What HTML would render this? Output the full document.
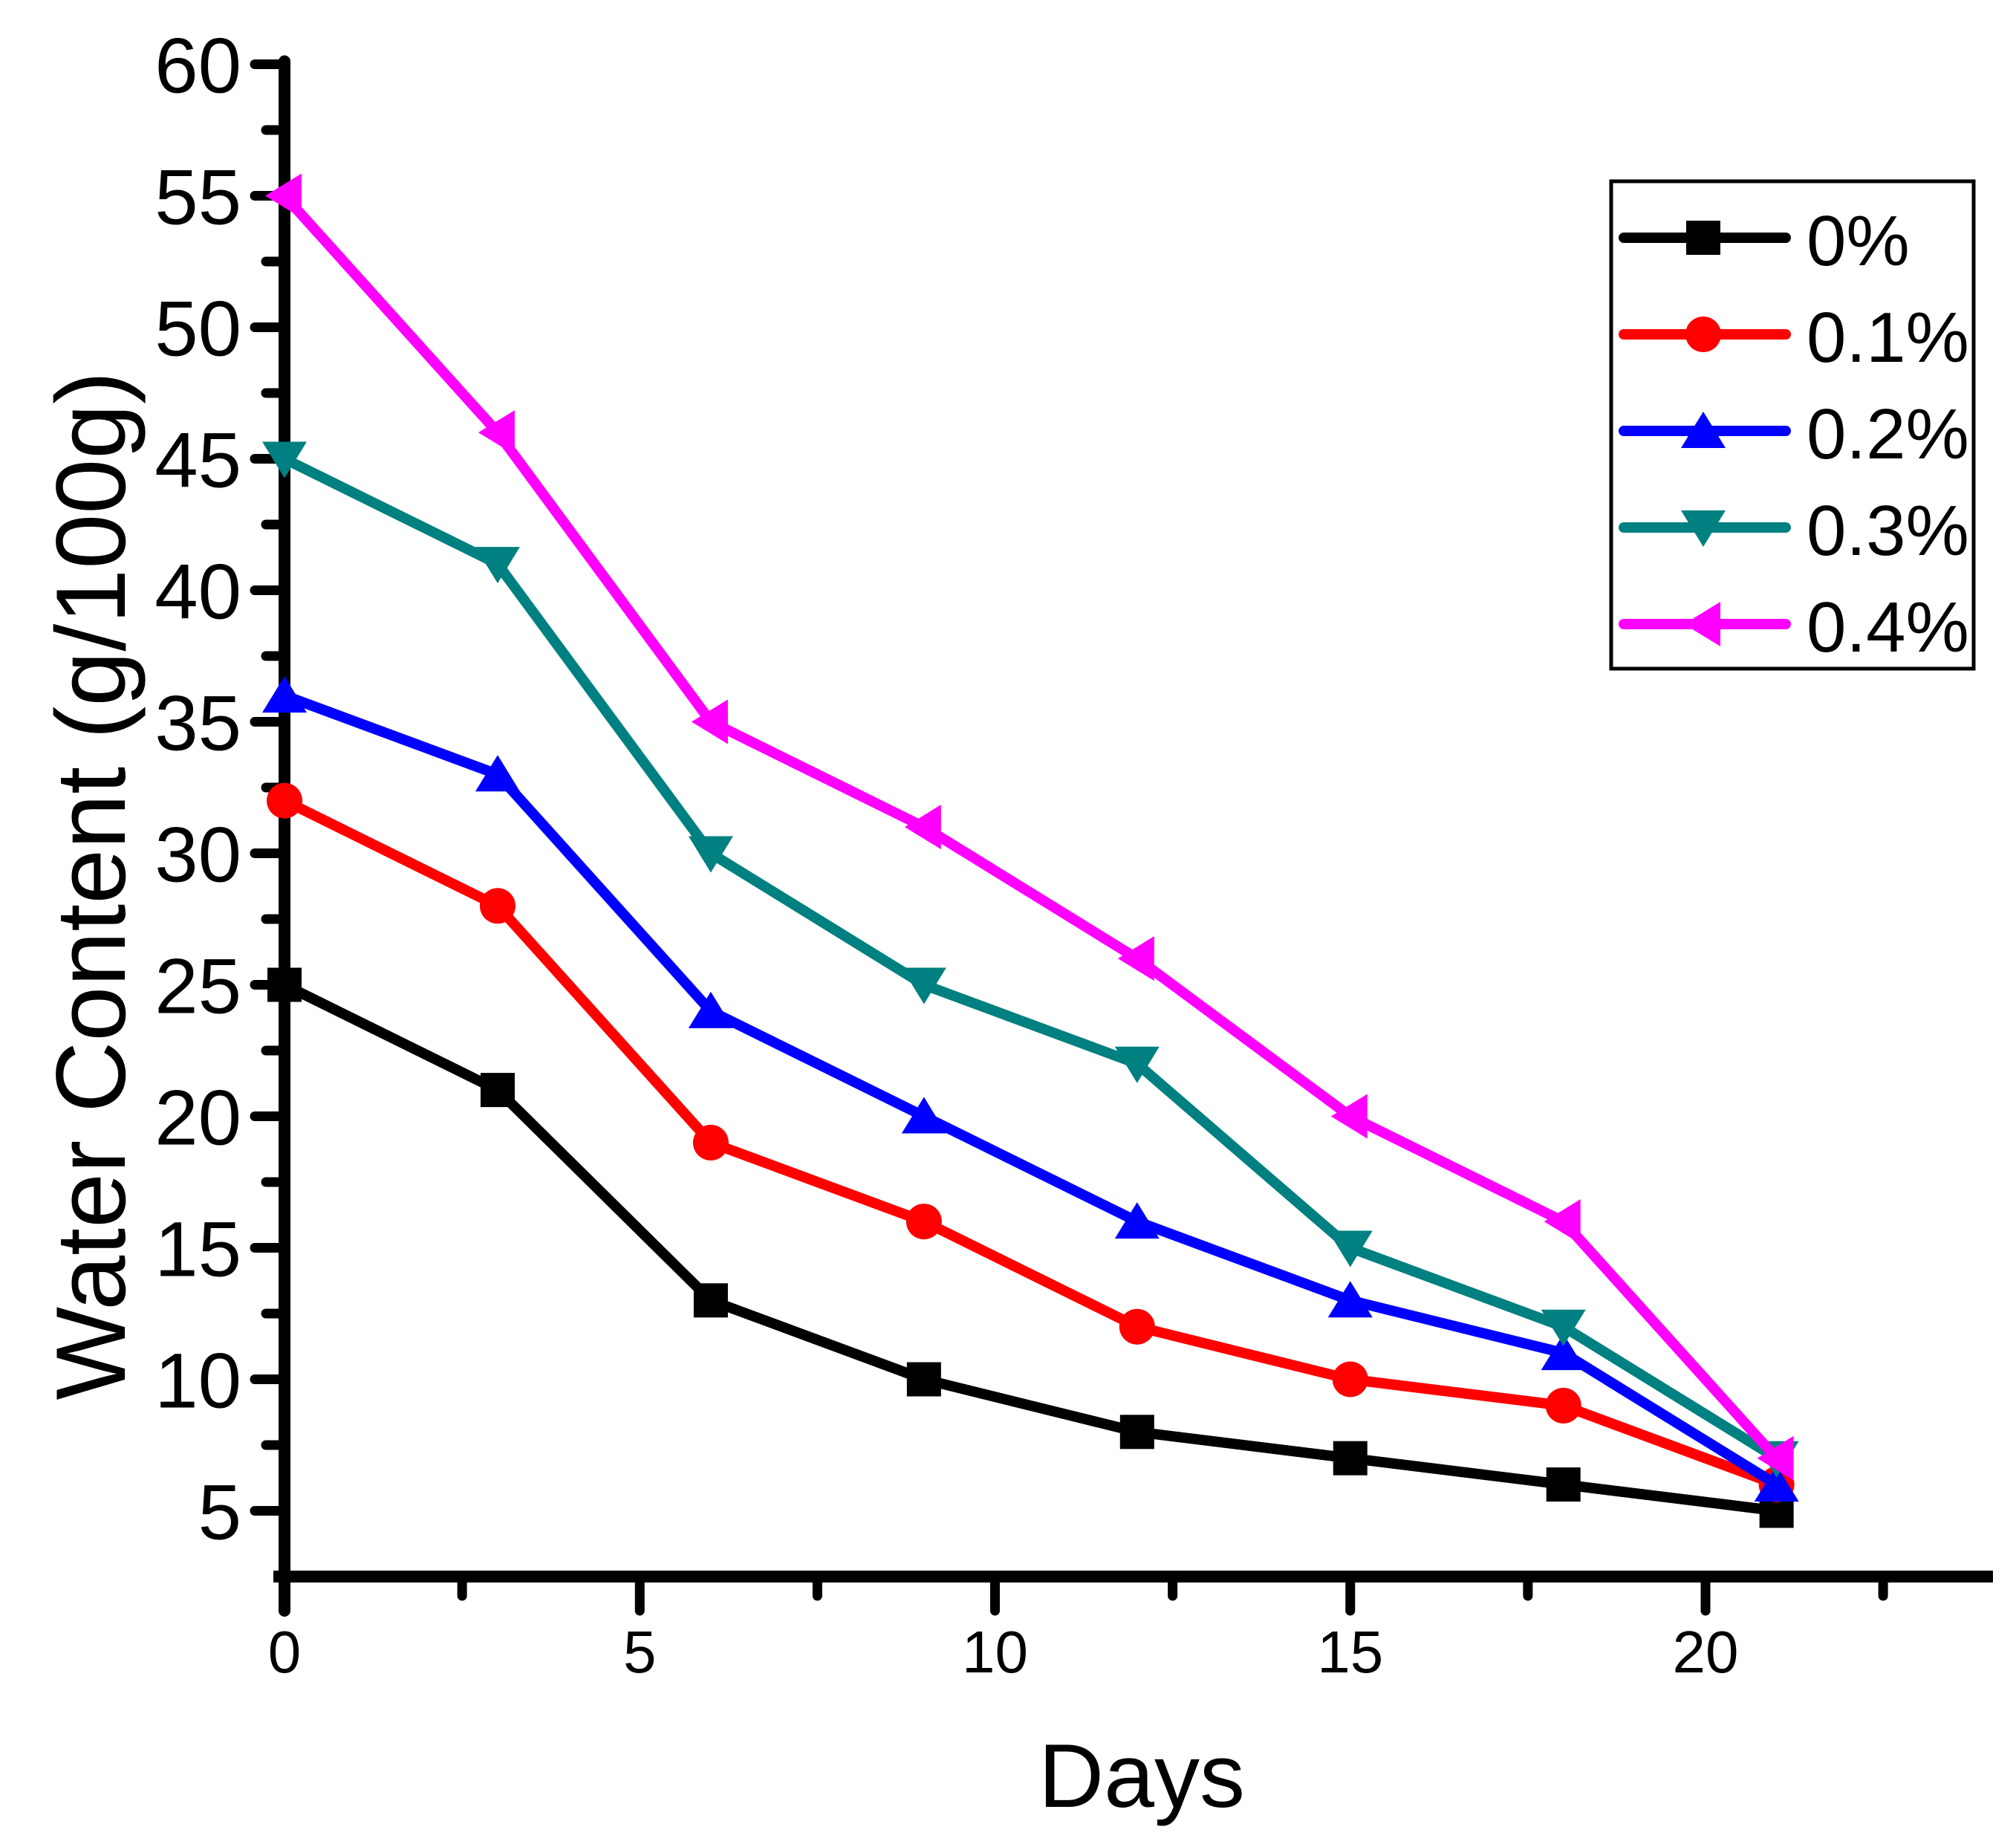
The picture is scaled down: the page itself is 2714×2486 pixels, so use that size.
<!DOCTYPE html>
<html><head><meta charset="utf-8"><style>
html,body{margin:0;padding:0;background:#fff}
svg{display:block}
text{font-family:"Liberation Sans",sans-serif;fill:#000}
</style></head><body>
<svg id="chart" width="2714" height="2486" viewBox="0 0 2714 2486" xmlns="http://www.w3.org/2000/svg">
<g id="axes"></g>
<g id="series"></g>
<text x="0" y="0" font-size="133" text-anchor="middle" transform="translate(168,1192) rotate(-90)">Water Content (g/100g)</text>
<text x="1537" y="2432" font-size="122" text-anchor="middle">Days</text>
<g id="legend"></g>
</svg>
<script>
const days = [0,3,6,9,12,15,18,21];
const s0 = [25,21,13,10,8,7,6,5];
const s1 = [32,28,19,16,12,10,9,6];
const s2 = [36,33,24,20,16,13,11,6];
const s3 = [45,41,30,25,22,15,12,7];
const s4 = [55,46,35,31,26,20,16,7];
const seriesNames = ["0%","0.1%","0.2%","0.3%","0.4%"];
const seriesColors = ["#000000","#ff0000","#0000ff","#008080","#ff00ff"];
const seriesMarkers = ["square","circle","up","down","left"];
const xTicks = [0,5,10,15,20];
const yTicks = [5,10,15,20,25,30,35,40,45,50,55,60];

const NS="http://www.w3.org/2000/svg";
const X0=383, XU=95.65, YB=2122, YU=35.4;
function xs(v){return X0+v*XU;}
function ys(v){return YB-(v-2.5)*YU;}
function mk(tag,attrs,parent){const e=document.createElementNS(NS,tag);for(const k in attrs)e.setAttribute(k,attrs[k]);parent.appendChild(e);return e;}

const axes=document.getElementById('axes');
let yAxis=mk('line',{x1:X0,y1:ys(60)-4,x2:X0,y2:2168,stroke:'#000','stroke-width':16,'stroke-linecap':'round'},axes);


let xAxis=mk('line',{x1:X0-15,y1:YB,x2:2683,y2:YB,stroke:'#000','stroke-width':16},axes);


for(let v=5;v<=60;v+=2.5){
  const major=(v%5===0);
  let t=mk('line',{x1:X0-(major?40:25),y1:ys(v),x2:X0,y2:ys(v),stroke:'#000','stroke-width':13,'stroke-linecap':'round'},axes);
  
  
}
yTicks.forEach(v=>{
  let t=mk('text',{x:325,y:ys(v)+38,'font-size':105,'text-anchor':'end'},axes);
  t.textContent=v;
  
  
});
for(let v=2.5;v<=22.5;v+=2.5){
  const major=(v%5===0);
  let t=mk('line',{x1:xs(v),y1:YB,x2:xs(v),y2:YB+(major?46:26),stroke:'#000','stroke-width':13,'stroke-linecap':'round'},axes);
  
  
}
xTicks.forEach(v=>{
  let t=mk('text',{x:xs(v),y:2251,'font-size':80,'text-anchor':'middle'},axes);
  t.textContent=v;
  
  
});

function marker(type,cx,cy,color,parent){
  const r=23;let e;
  if(type==='square') e=mk('rect',{x:cx-r,y:cy-r,width:2*r,height:2*r,fill:color},parent);
  else if(type==='circle') e=mk('circle',{cx:cx,cy:cy,r:r+1,fill:color},parent);
  else if(type==='up') e=mk('polygon',{points:`${cx},${cy-r-3} ${cx-r-7},${cy+r} ${cx+r+7},${cy+r}`,fill:color},parent);
  else if(type==='down') e=mk('polygon',{points:`${cx},${cy+r+3} ${cx-r-7},${cy-r} ${cx+r+7},${cy-r}`,fill:color},parent);
  else e=mk('polygon',{points:`${cx-r-3},${cy} ${cx+r},${cy-r-7} ${cx+r},${cy+r+7}`,fill:color},parent);
  return e;
}

const seriesG=document.getElementById('series');
const allSeries=[s0,s1,s2,s3,s4];
allSeries.forEach((vals,i)=>{
  const g=mk('g',{},seriesG);
  
  
  const pts=vals.map((v,j)=>xs(days[j])+','+ys(v)).join(' ');
  let pl=mk('polyline',{points:pts,fill:'none',stroke:seriesColors[i],'stroke-width':14,'stroke-linejoin':'round','stroke-linecap':'round'},g);
  
  
  vals.forEach((v,j)=>{
    let m=marker(seriesMarkers[i],xs(days[j]),ys(v),seriesColors[i],g);
    
    
  });
});

const lg=document.getElementById('legend');
let box=mk('rect',{x:2169,y:244,width:488,height:656,fill:'#fff',stroke:'#000','stroke-width':5},lg);


const ly=[320,450,580,710,840];
seriesNames.forEach((n,i)=>{
  const g=mk('g',{},lg);
  
  
  mk('line',{x1:2186,y1:ly[i],x2:2404,y2:ly[i],stroke:seriesColors[i],'stroke-width':14,'stroke-linecap':'round'},g);
  marker(seriesMarkers[i],2293,ly[i],seriesColors[i],g);
  let t=mk('text',{x:2432,y:ly[i]+37,'font-size':96},g);
  t.textContent=n;
});
</script>
</body></html>
